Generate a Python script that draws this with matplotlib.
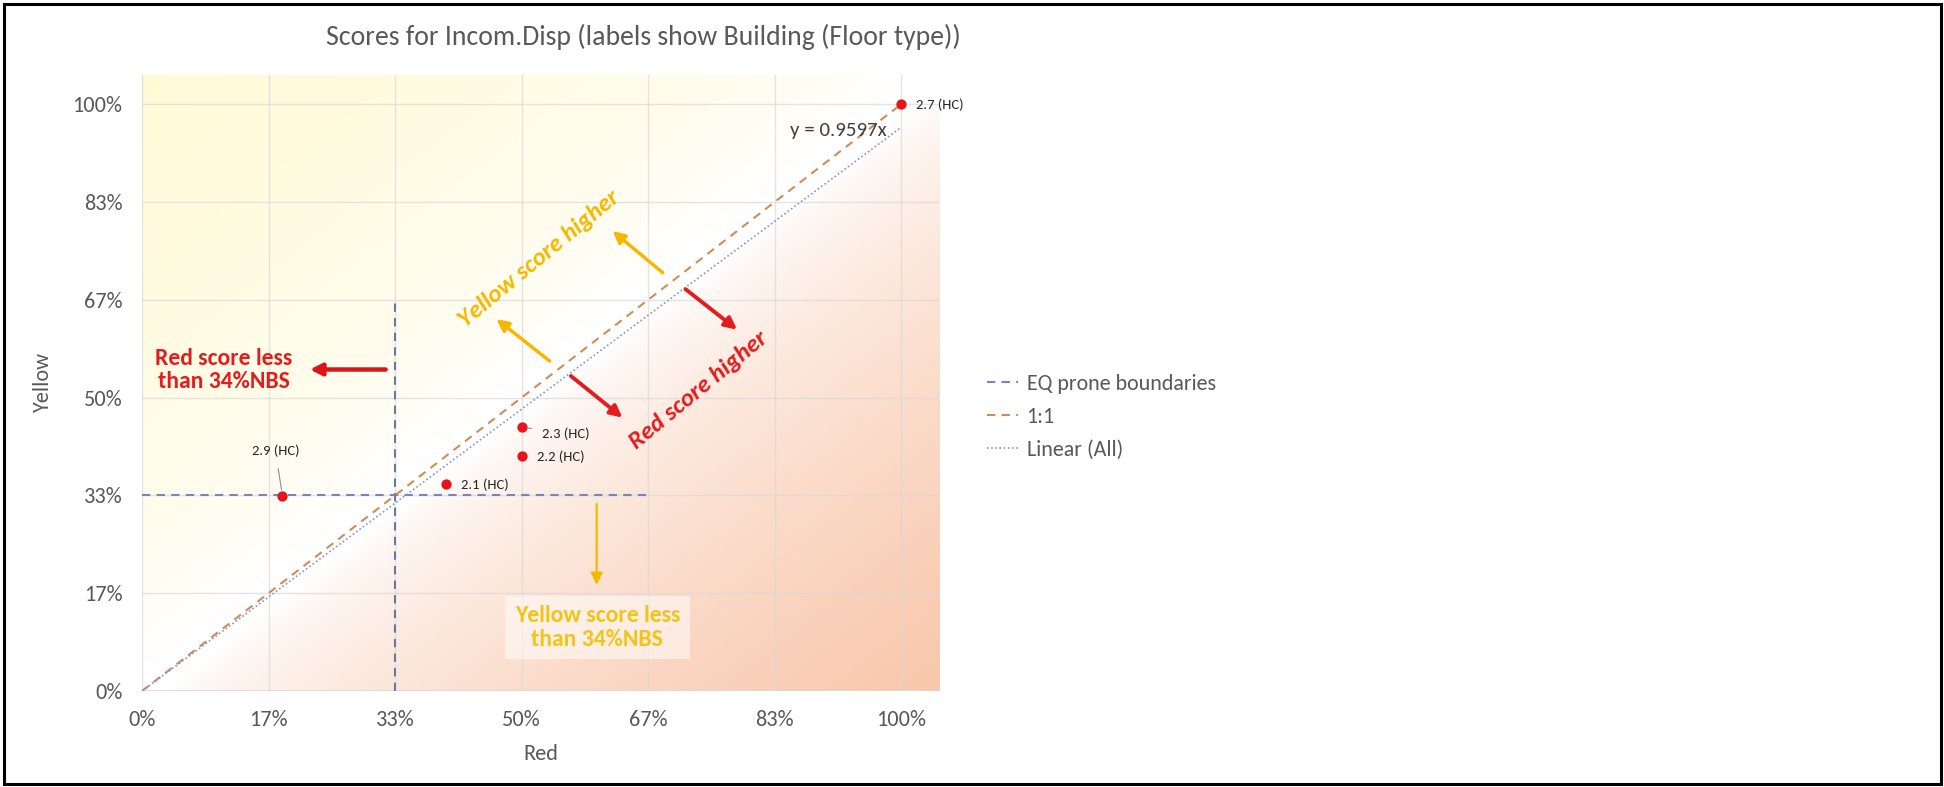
import numpy as np
import matplotlib
matplotlib.use("Agg")
import matplotlib.pyplot as plt
from matplotlib.patches import Rectangle

plt.rcParams['font.family'] = ['Carlito', 'Lato', 'DejaVu Sans']

# ---- data ----
red_scores = [1.0, 0.5, 0.5, 0.4, 0.185]
yellow_scores = [1.0, 0.45, 0.40, 0.352, 0.333]
point_labels = ['2.7 (HC)', '2.3 (HC)', '2.2 (HC)', '2.1 (HC)', '2.9 (HC)']
label_offsets = [(11, 0), (15, -5), (11, 0), (11, 0), (-5, 32)]
label_leader = [False, True, False, False, True]
tick_values = [0, 1/6, 2/6, 3/6, 4/6, 5/6, 1.0]
tick_labels = ['0%', '17%', '33%', '50%', '67%', '83%', '100%']
eq_h_x = [0, 2/3]
eq_h_y = [1/3, 1/3]
eq_v_x = [1/3, 1/3]
eq_v_y = [0, 2/3]
one_to_one = [0, 1.0]
trend_label = 'y = 0.9597x'
legend_labels = ['EQ prone boundaries', '1:1', 'Linear (All)']

AX_MAX = 1.05
GREY = '#595959'

fig = plt.figure(figsize=(19.44, 7.87), dpi=100)
ax = fig.add_axes([142/1944, 1 - 691/787, 797/1944, 616/787])

# background gradient (yellow top-left, peach bottom-right)
n = 300
u = np.linspace(0, 1, n)
U, V = np.meshgrid(u, u[::-1])
t = U - V
a_y = np.clip((-t - 0.03) / 0.97, 0, 1) ** 0.6
a_p = np.clip((t - 0.03) / 0.97, 0, 1) ** 0.65
yellow_c = np.array([1.0, 0.98, 0.84])
peach_c = np.array([0.975, 0.78, 0.67])
img = np.ones((n, n, 3))
img = img * (1 - a_y[..., None]) + yellow_c * a_y[..., None]
img = img * (1 - a_p[..., None]) + peach_c * a_p[..., None]
ax.imshow(img, extent=[0, AX_MAX, 0, AX_MAX], aspect='auto', zorder=0, interpolation='bilinear')

ax.set_xlim(0, AX_MAX)
ax.set_ylim(0, AX_MAX)
ax.set_xticks(tick_values)
ax.set_yticks(tick_values)
ax.set_xticklabels(tick_labels)
ax.set_yticklabels(tick_labels)
ax.tick_params(length=0, labelsize=16, colors=GREY, pad=14)
ax.tick_params(axis='x', pad=14)
for s in ax.spines.values():
    s.set_visible(False)
ax.grid(True, color='#d9d9d9', lw=1, alpha=0.7, zorder=1)
for gl in ax.get_xgridlines() + ax.get_ygridlines():
    gl.set_zorder(1)
ax.axhline(0, color='#d9d9d9', lw=1.2, zorder=1)

ax.set_xlabel('Red', fontsize=16, color=GREY, labelpad=10)
ax.set_ylabel('Yellow', fontsize=16, color=GREY, labelpad=14)

# lines
eq_color = '#7884c0'
l_eq, = ax.plot(eq_h_x, eq_h_y, color=eq_color, lw=1.5, dashes=(4, 3), zorder=3)
ax.plot(eq_v_x, eq_v_y, color='#6a76a8', lw=1.5, dashes=(4, 3), zorder=3)
l_11, = ax.plot(one_to_one, one_to_one, color='#cf8c5a', lw=1.5, dashes=(4, 3), zorder=3)

xs = np.array(red_scores)
ys = np.array(yellow_scores)
slope = np.sum(xs * ys) / np.sum(xs * xs)
tx = np.array([0, xs.max()])
l_tr, = ax.plot(tx, slope * tx, color='#8a8fd0', lw=1.2, ls=(0, (1, 1.5)), zorder=3)

ax.scatter(xs, ys, s=55, color='#e8141b', zorder=5, linewidths=0)

for x, y, lab, off, lead in zip(red_scores, yellow_scores, point_labels, label_offsets, label_leader):
    ha = 'center' if off[0] < 0 else 'left'
    ax.annotate(lab, (x, y), xytext=off, textcoords='offset points',
                ha=ha, va='center', fontsize=10.5, color='#262626', zorder=6,
                arrowprops=dict(arrowstyle='-', color='#8c8c8c', lw=0.8,
                                shrinkA=6, shrinkB=4) if lead else None)

ax.text(0.917, 0.956, trend_label, fontsize=15, color='#404040', ha='center', va='center', zorder=6)

# annotations
YEL = '#f5b800'
RED = '#e01e1e'
ax.text(0.523, 0.736, 'Yellow score higher', color=YEL, fontsize=18, fontweight='bold',
        fontstyle='italic', rotation=39.5, ha='center', va='center', rotation_mode='anchor', zorder=6)
ax.text(0.733, 0.513, 'Red score higher', color=RED, fontsize=18, fontweight='bold',
        fontstyle='italic', rotation=39.5, ha='center', va='center', rotation_mode='anchor', zorder=6)
ax.text(0.108, 0.547, 'Red score less\nthan 34%NBS', color=RED, fontsize=17, fontweight='bold',
        ha='center', va='center', linespacing=1.15, zorder=6)
ax.text(0.600, 0.108, 'Yellow score less\nthan 34%NBS', color='#f2c417', fontsize=17, fontweight='bold',
        ha='center', va='center', linespacing=1.15, zorder=6,
        bbox=dict(boxstyle='square,pad=0.4', fc='white', ec='none', alpha=0.5))

arrows = [((0.686, 0.713), (0.620, 0.784), YEL, 2.5),
          ((0.537, 0.5625), (0.467, 0.634), YEL, 2.5),
          ((0.716, 0.685), (0.784, 0.616), RED, 2.8),
          ((0.565, 0.537), (0.633, 0.466), RED, 2.8),
          ((0.321, 0.548), (0.221, 0.548), '#d81818', 3.2),
          ((0.599, 0.319), (0.599, 0.181), YEL, 1.6)]
for tail, head, c, lw in arrows:
    ax.annotate('', xy=head, xytext=tail,
                arrowprops=dict(arrowstyle='-|>,head_length=0.7,head_width=0.35', color=c, lw=lw,
                                shrinkA=0, shrinkB=0), zorder=6)

# legend
fig.legend([l_eq, l_11, l_tr], legend_labels,
           loc='center left', bbox_to_anchor=(987/1944, 1 - 417/787), frameon=False,
           fontsize=15.8, labelcolor=GREY, handlelength=1.4, handletextpad=0.4,
           labelspacing=0.6, borderpad=0, borderaxespad=0)

# title
fig.text(643/1944, 1 - 37/787, 'Scores for Incom.Disp (labels show Building (Floor type))',
         ha='center', va='center', fontsize=20, color=GREY)

# outer frame
fig.add_artist(Rectangle((0.002, 0.004), 0.9965, 0.991, transform=fig.transFigure,
                         fill=False, ec='black', lw=2.2))

fig.savefig('out.png', dpi=100)
